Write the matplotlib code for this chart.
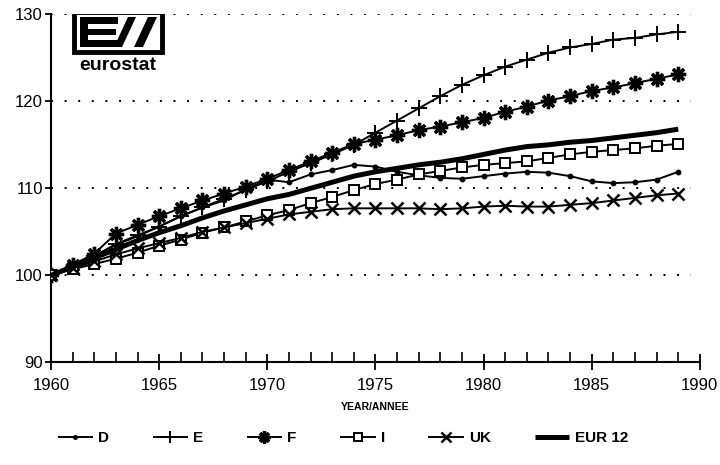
import matplotlib
matplotlib.use("Agg")
import matplotlib.pyplot as plt
from matplotlib.patches import Rectangle, Polygon
import numpy as np

plt.rcParams['font.family'] = ['Liberation Sans', 'DejaVu Sans']

years = list(range(1960, 1990))
D = [100, 100.9, 102.2, 103.5, 104.5, 105.6, 106.8, 107.8, 108.6, 109.9,
     111.0, 110.7, 111.6, 112.1, 112.7, 112.5, 111.9, 111.5, 111.2, 111.1,
     111.4, 111.7, 111.9, 111.8, 111.4, 110.8, 110.6, 110.7, 111.0, 111.9]
E = [100, 101.0, 102.2, 103.6, 104.6, 105.6, 106.8, 107.8, 108.8, 109.8,
     110.8, 111.9, 112.9, 113.9, 115.0, 116.4, 117.8, 119.2, 120.6, 121.9,
     123.0, 124.0, 124.8, 125.6, 126.2, 126.6, 127.1, 127.3, 127.7, 128.0]
F = [100, 101.2, 102.5, 104.8, 105.8, 106.8, 107.7, 108.6, 109.4, 110.2,
     111.1, 112.1, 113.1, 114.1, 115.1, 115.6, 116.1, 116.7, 117.1, 117.6,
     118.1, 118.8, 119.4, 120.1, 120.6, 121.2, 121.6, 122.1, 122.6, 123.1]
I = [100, 100.7, 101.3, 101.9, 102.6, 103.4, 104.1, 104.9, 105.5, 106.2,
     106.9, 107.5, 108.3, 109.0, 109.8, 110.5, 111.0, 111.6, 112.0, 112.4,
     112.7, 112.9, 113.1, 113.5, 113.9, 114.2, 114.4, 114.6, 114.9, 115.1]
UK = [100, 100.8, 101.6, 102.4, 103.1, 103.7, 104.3, 105.0, 105.5, 106.0,
      106.5, 107.0, 107.3, 107.6, 107.7, 107.7, 107.7, 107.7, 107.6, 107.7,
      107.9, 108.0, 107.9, 107.9, 108.1, 108.3, 108.6, 108.9, 109.2, 109.4]
EUR12 = [100, 101.0, 102.0, 103.0, 104.0, 104.9, 105.7, 106.6, 107.4, 108.1,
         108.8, 109.3, 110.0, 110.7, 111.4, 111.9, 112.3, 112.7, 113.0, 113.4,
         113.9, 114.4, 114.8, 115.0, 115.3, 115.5, 115.8, 116.1, 116.4, 116.8]

x_ticks = [1960, 1965, 1970, 1975, 1980, 1985, 1990]
y_ticks = [90, 100, 110, 120, 130]
grid_levels = [100, 110, 120, 130]

fig = plt.figure(figsize=(7.2, 4.65), dpi=100)
ax = fig.add_axes([0.071, 0.221, 0.901, 0.748])
ax.set_xlim(1960, 1990)
ax.set_ylim(90, 130)

for g in grid_levels:
    ax.hlines(g, 1960, 1989.6, colors='black', linestyles=(0, (1, 6)), linewidth=1.4, zorder=1)

lw = 1.4
ax.plot(years, D, color='black', lw=lw, marker='o', ms=3.2, label='D', zorder=3)
ax.plot(years, E, color='black', lw=lw, marker='+', ms=11, mew=1.4, label='E', zorder=3)
ax.plot(years, F, color='black', lw=lw, marker=(8, 2, 0), ms=11, mew=2.4, label='F', zorder=3)
ax.plot(years, I, color='black', lw=lw, marker='s', ms=7.5, mfc='white', mew=1.4, label='I', zorder=3)
ax.plot(years, UK, color='black', lw=lw, marker='x', ms=9, mew=1.8, label='UK', zorder=3)
ax.plot(years, EUR12, color='black', lw=3.6, label='EUR 12', zorder=4, solid_capstyle='butt')

for s in ['top', 'right']:
    ax.spines[s].set_visible(False)
ax.spines['left'].set_linewidth(1.5)
ax.spines['bottom'].set_linewidth(1.5)

ax.set_xticks(x_ticks)
ax.set_xticks(range(1960, 1991), minor=True)
ax.set_yticks(y_ticks)
ax.tick_params(axis='x', which='major', direction='inout', length=12, width=1.3, labelsize=12, pad=5)
ax.tick_params(axis='x', which='minor', direction='in', length=7, width=1.2)
ax.tick_params(axis='y', which='major', direction='out', length=4, width=1.3, labelsize=12, pad=2)
ax.set_xlabel('YEAR/ANNEE', fontsize=7.5, fontweight='bold', labelpad=7)

# eurostat logo
def p2d(px, py):
    inv = ax.transData.inverted()
    return inv.transform((px, 465 - py))
fig.canvas.draw()
x0, y0 = p2d(74, 52)
x1, y1 = p2d(162, 12)
ax.add_patch(Rectangle((x0, y0), x1 - x0, y1 - y0, facecolor='white', edgecolor='black', lw=3.5, zorder=5))
def poly(pts):
    dpts = [p2d(a, b) for a, b in pts]
    ax.add_patch(Polygon(dpts, closed=True, facecolor='black', edgecolor='none', zorder=6))
poly([(80, 17), (118, 17), (118, 24), (88, 24), (88, 29), (116, 29), (116, 35), (88, 35), (88, 40), (118, 40), (118, 47), (80, 47)])
poly([(114, 47), (128, 17), (136, 17), (122, 47)])
poly([(134, 47), (148, 17), (157, 17), (143, 47)])
lx, ly = p2d(118, 70)
ax.text(lx, ly, 'eurostat', fontsize=14, fontweight='heavy', ha='center', va='baseline', zorder=6)

handles, labels = ax.get_legend_handles_labels()
leg = fig.legend(handles, labels, loc='lower center', bbox_to_anchor=(0.477, 0.013), ncol=6,
                 frameon=False, handlelength=2.2, columnspacing=2.9, handletextpad=0.4,
                 markerscale=0.8, prop={'weight': 'bold', 'size': 11})

fig.savefig('out.png', dpi=100)
